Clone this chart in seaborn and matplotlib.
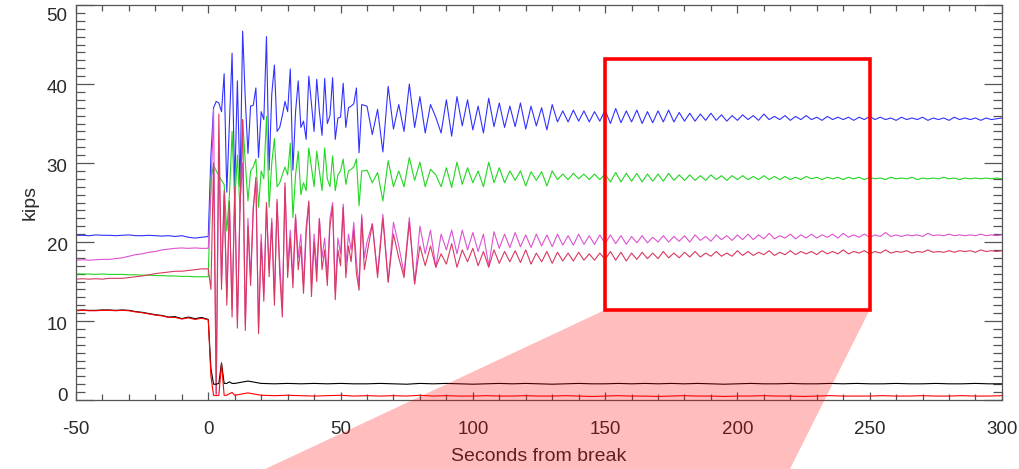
import numpy as np
import pandas as pd
import seaborn as sns
import matplotlib
matplotlib.use("Agg")
import matplotlib.pyplot as plt
from matplotlib.patches import Rectangle, Polygon
from matplotlib.transforms import ScaledTranslation
from matplotlib.ticker import MultipleLocator

# ---------------- data ----------------
t_pre = np.arange(-50, 0.1, 2.5)          # 21 samples before the break
t_early = np.arange(1, 61, 1)             # 60 samples, 1 s
t_late = np.arange(62, 301, 2)            # 120 samples, 2 s
t_tail = np.concatenate([t_pre, np.arange(1, 11, 1), np.arange(15, 301, 5)])

blue_pre = [20.85, 20.85, 20.8, 20.9, 20.85, 20.85, 20.8, 20.85, 20.9, 20.8, 20.8,
            20.85, 20.8, 20.75, 20.8, 20.7, 20.8, 20.6, 20.5, 20.6, 20.7]
blue_early = [31.0, 37.0, 37.8, 37.6, 36.5, 41.3, 26.3, 35.0, 43.9, 27.0,
              40.4, 27.0, 46.7, 38.0, 31.2, 37.2, 37.3, 39.5, 30.7, 36.5,
              35.5, 46.0, 29.1, 38.7, 42.4, 34.0, 34.5, 36.0, 37.8, 36.5,
              41.9, 29.1, 36.5, 40.4, 34.5, 35.3, 33.0, 41.0, 37.5, 34.0,
              40.6, 36.5, 33.5, 40.7, 35.0, 36.0, 40.8, 33.0, 35.7, 35.8,
              40.1, 34.5, 37.0, 37.2, 37.5, 39.5, 31.3, 37.4, 37.3, 37.2]
blue_late = [33.6, 36.8, 31.4, 39.7, 34.3, 37.4, 34.0, 40.0, 34.5, 38.4,
             33.8, 37.4, 35.8, 33.8, 38.0, 33.4, 38.4, 34.7, 38.0, 34.2,
             37.2, 33.8, 38.2, 34.6, 37.6, 34.5, 37.2, 34.6, 37.6, 34.3,
             37.2, 34.7, 37.0, 34.2, 37.4, 35.2, 36.6, 35.2, 36.7, 35.3,
             36.6, 35.2, 36.5, 35.3, 36.7, 35.0, 36.9, 35.1, 36.6, 35.2,
             36.7, 35.0, 36.5, 35.1, 36.6, 35.2, 36.7, 35.2, 36.4, 35.3,
             36.3, 35.3, 36.2, 35.4, 36.3, 35.4, 36.1, 35.3, 36.0, 35.4,
             36.1, 35.5, 36.0, 35.4, 36.2, 35.5, 35.9, 35.5, 36.0, 35.4,
             35.9, 35.5, 36.0, 35.5, 35.8, 35.4, 35.9, 35.5, 35.8, 35.5,
             35.8, 35.4, 35.8, 35.5, 35.9, 35.5, 35.8, 35.5, 35.7, 35.4,
             35.8, 35.5, 35.7, 35.5, 35.8, 35.4, 35.7, 35.5, 35.7, 35.4,
             35.8, 35.5, 35.7, 35.5, 35.7, 35.4, 35.7, 35.5, 35.6, 35.7]

green_pre = [15.95, 15.95, 15.95, 15.9, 15.95, 15.9, 15.9, 15.9, 15.85, 15.85, 15.8,
             15.8, 15.75, 15.75, 15.7, 15.7, 15.65, 15.65, 15.6, 15.6, 15.6]
green_early = [28.0, 29.8, 29.0, 28.4, 27.8, 27.3, 21.4, 26.0, 34.0, 25.0,
               31.0, 24.0, 35.5, 30.0, 25.2, 29.0, 29.5, 30.5, 24.4, 29.0,
               28.0, 35.9, 24.4, 30.0, 33.1, 27.0, 27.5, 28.5, 29.5, 28.5,
               32.5, 23.1, 28.5, 31.5, 26.0, 27.5, 26.5, 31.9, 29.5, 27.0,
               31.5, 29.0, 26.5, 31.9, 28.0, 27.0, 30.9, 26.5, 28.5, 29.0,
               30.5, 27.3, 29.0, 29.2, 29.5, 30.5, 24.6, 29.0, 29.0, 29.1]
green_late = [27.5, 28.8, 25.2, 30.3, 27.0, 29.0, 27.0, 30.7, 27.8, 30.1,
              27.0, 29.2, 28.5, 27.0, 29.4, 26.9, 30.1, 27.3, 29.4, 27.5,
              29.0, 27.0, 30.1, 27.5, 29.4, 27.5, 29.0, 27.8, 29.0, 27.1,
              28.9, 27.8, 28.9, 27.1, 29.0, 27.9, 28.6, 27.9, 28.7, 28.0,
              28.6, 27.9, 28.6, 27.9, 28.6, 27.6, 28.8, 27.6, 28.7, 27.7,
              28.7, 27.6, 28.6, 27.7, 28.6, 27.7, 28.7, 27.8, 28.5, 27.8,
              28.5, 27.8, 28.4, 27.8, 28.5, 27.9, 28.4, 27.8, 28.4, 27.9,
              28.4, 27.9, 28.3, 27.9, 28.4, 27.9, 28.3, 27.9, 28.3, 27.9,
              28.2, 27.9, 28.3, 28.0, 28.2, 27.9, 28.2, 28.0, 28.2, 27.9,
              28.2, 28.0, 28.2, 27.9, 28.2, 28.0, 28.1, 27.9, 28.2, 28.0,
              28.1, 28.0, 28.2, 27.9, 28.1, 28.0, 28.1, 28.0, 28.2, 28.0,
              28.1, 27.9, 28.1, 28.0, 28.1, 28.0, 28.1, 28.0, 28.1, 28.0]

magenta_pre = [17.7, 17.75, 17.7, 17.75, 17.8, 17.8, 17.9, 18.0, 18.2, 18.4, 18.5,
               18.7, 18.8, 19.0, 19.1, 19.2, 19.25, 19.2, 19.25, 19.2, 19.2]
magenta_early = [26.0, 36.8, 0.6, 31.0, 15.0, 26.0, 13.0, 24.5, 11.5, 26.0,
                 10.0, 25.0, 30.0, 9.5, 23.0, 15.5, 24.5, 27.5, 9.0, 21.0,
                 13.5, 24.5, 16.5, 23.0, 13.0, 25.0, 17.5, 11.5, 27.0, 17.0,
                 21.5, 15.5, 23.5, 18.0, 21.0, 14.5, 22.0, 25.0, 14.5, 21.0,
                 16.5, 23.0, 18.0, 20.5, 15.5, 23.0, 25.0, 13.9, 20.5, 18.5,
                 24.8, 17.0, 21.0, 19.0, 22.5, 17.5, 14.5, 23.5, 18.0, 20.0]
magenta_late = [22.3, 16.0, 23.5, 15.0, 22.5, 19.5, 16.0, 23.1, 14.7, 22.0,
                18.5, 21.5, 16.8, 21.0, 19.0, 21.5, 18.5, 21.5, 19.0, 21.2,
                18.8, 21.0, 17.0, 21.3, 19.2, 21.0, 19.3, 21.2, 19.4, 20.9,
                19.3, 21.0, 19.5, 20.9, 19.4, 21.0, 19.6, 20.8, 19.6, 21.0,
                19.7, 20.8, 19.7, 20.9, 19.8, 20.9, 19.8, 20.8, 19.7, 20.7,
                19.9, 20.8, 19.9, 20.6, 20.0, 20.8, 20.0, 20.7, 20.1, 20.8,
                20.0, 20.9, 20.2, 20.7, 20.1, 20.9, 20.3, 20.8, 20.2, 20.9,
                20.3, 21.0, 20.3, 20.9, 20.4, 21.1, 20.4, 20.8, 20.5, 21.0,
                20.4, 20.9, 20.5, 21.0, 20.5, 20.9, 20.6, 21.0, 20.5, 21.1,
                20.6, 20.9, 20.6, 21.0, 20.6, 20.9, 20.7, 21.2, 20.7, 20.9,
                20.7, 20.9, 20.8, 20.9, 20.7, 21.1, 20.8, 20.9, 20.8, 21.0,
                20.8, 20.9, 20.8, 20.9, 20.8, 21.0, 20.8, 20.9, 20.8, 20.9]

crimson_pre = [15.3, 15.35, 15.3, 15.35, 15.3, 15.4, 15.4, 15.4, 15.5, 15.6, 15.7,
               15.85, 16.0, 16.1, 16.2, 16.3, 16.3, 16.4, 16.5, 16.6, 16.6]
crimson_early = [14.0, 30.0, 0.8, 36.2, 14.0, 26.5, 12.0, 25.2, 10.5, 27.0,
                 9.1, 24.0, 35.5, 8.8, 22.0, 14.5, 24.0, 28.2, 8.4, 20.0,
                 12.5, 25.0, 15.6, 22.5, 12.0, 25.4, 16.0, 10.5, 27.5, 15.5,
                 20.5, 14.2, 23.1, 16.5, 19.5, 13.5, 21.0, 25.2, 13.1, 20.0,
                 15.0, 22.9, 16.5, 19.0, 14.5, 22.0, 24.5, 12.7, 19.0, 17.0,
                 24.4, 15.5, 19.5, 17.5, 21.5, 16.0, 13.9, 23.1, 16.5, 18.5]
crimson_late = [22.3, 15.5, 23.0, 14.9, 21.0, 18.0, 15.5, 22.5, 14.7, 19.5,
                17.0, 19.5, 16.8, 18.5, 17.2, 19.8, 16.8, 19.0, 17.5, 19.2,
                17.0, 18.8, 16.8, 19.0, 17.3, 18.8, 17.5, 18.9, 17.4, 19.0,
                17.2, 18.6, 17.5, 18.8, 17.3, 18.7, 17.6, 18.6, 17.6, 18.7,
                17.7, 18.5, 17.7, 18.6, 17.8, 18.8, 17.7, 18.7, 17.6, 18.6,
                17.8, 18.7, 17.9, 18.6, 17.9, 18.8, 18.0, 18.6, 18.0, 18.7,
                18.1, 18.8, 18.1, 18.6, 18.2, 18.8, 18.2, 18.6, 18.2, 18.9,
                18.3, 18.8, 18.3, 18.7, 18.4, 18.9, 18.3, 18.7, 18.4, 18.9,
                18.4, 18.8, 18.5, 18.8, 18.4, 18.9, 18.5, 18.8, 18.5, 19.0,
                18.5, 18.8, 18.6, 18.9, 18.5, 18.8, 18.6, 19.0, 18.6, 18.8,
                18.7, 18.9, 18.6, 18.8, 18.7, 19.0, 18.7, 18.8, 18.7, 18.9,
                18.7, 18.9, 18.8, 18.9, 18.7, 19.0, 18.8, 18.9, 18.8, 18.9]

black_vals = [11.35, 11.4, 11.35, 11.35, 11.4, 11.4, 11.35, 11.4, 11.35, 11.2, 11.1,
              10.95, 10.8, 10.7, 10.5, 10.55, 10.3, 10.5, 10.3, 10.45, 10.2,
              4.0, 2.0, 2.0, 2.1, 4.7, 2.1, 2.1, 2.3, 2.1, 2.1,
              2.4, 2.1, 2.05, 2.1, 2.05, 2.1, 2.05, 2.1, 2.05, 2.05,
              2.1, 2.05, 2.0, 2.1, 2.05, 2.1, 2.05, 2.0, 2.05, 2.1,
              2.05, 2.1, 2.05, 2.0, 2.05, 2.1, 2.05, 2.05, 2.1, 2.05,
              2.1, 2.05, 2.1, 2.05, 2.1, 2.05, 2.0, 2.05, 2.1, 2.05,
              2.05, 2.1, 2.05, 2.05, 2.1, 2.05, 2.1, 2.05, 2.05, 2.1,
              2.05, 2.05, 2.1, 2.05, 2.05, 2.1, 2.05, 2.05]
red_vals = [11.3, 11.35, 11.3, 11.3, 11.35, 11.35, 11.3, 11.35, 11.3, 11.15, 11.05,
            10.9, 10.75, 10.65, 10.45, 10.45, 10.25, 10.4, 10.2, 10.35, 10.15,
            3.0, 0.6, 0.55, 0.6, 4.6, 0.6, 0.6, 0.8, 0.95, 0.6,
            0.9, 0.6, 0.55, 0.6, 0.55, 0.5, 0.55, 0.6, 0.5, 0.55,
            0.5, 0.55, 0.5, 0.6, 0.5, 0.55, 0.5, 0.5, 0.55, 0.5,
            0.5, 0.55, 0.5, 0.5, 0.55, 0.5, 0.45, 0.5, 0.55, 0.5,
            0.5, 0.45, 0.5, 0.55, 0.5, 0.5, 0.45, 0.5, 0.5, 0.55,
            0.5, 0.5, 0.45, 0.5, 0.55, 0.5, 0.5, 0.5, 0.55, 0.5,
            0.5, 0.55, 0.5, 0.5, 0.55, 0.5, 0.5, 0.55]

zoom_x = [150, 250]          # zoom box, seconds
zoom_y = [11.4, 43.2]        # zoom box, kips
x_ticks = [-50, 0, 50, 100, 150, 200, 250, 300]
y_ticks = [0, 10, 20, 30, 40, 50]

# ---------------- assemble ----------------
t_main = np.concatenate([t_pre, t_early, t_late])
series = [
    ("blue", t_main, blue_pre + blue_early + blue_late, "#3232ff"),
    ("green", t_main, green_pre + green_early + green_late, "#22d622"),
    ("magenta", t_main, magenta_pre + magenta_early + magenta_late, "#de52d2"),
    ("crimson", t_main, crimson_pre + crimson_early + crimson_late, "#d9385f"),
    ("black", t_tail, black_vals, "#000000"),
    ("red", t_tail, red_vals, "#ff0000"),
]
frames = []
for name, tt, vv, _ in series:
    frames.append(pd.DataFrame({"t": tt, "v": vv, "series": name}))
df = pd.concat(frames, ignore_index=True)

sns.set_theme(style="white")
plt.rcParams["font.family"] = ["Liberation Sans", "DejaVu Sans"]
plt.rcParams["axes.unicode_minus"] = False

fig = plt.figure(figsize=(10.2, 4.69), dpi=100)
ax = fig.add_axes([0.0745, 0.1471, 0.9078, 0.8422])

for name, _, _, col in series:
    sub = df[df["series"] == name]
    sns.lineplot(data=sub, x="t", y="v", color=col, linewidth=0.8,
                 estimator=None, sort=False, ax=ax)

ax.set_xlim(x_ticks[0], x_ticks[-1])
ax.set_ylim(y_ticks[0], y_ticks[-1])

ax.add_patch(Rectangle((zoom_x[0], zoom_y[0]), zoom_x[1] - zoom_x[0],
                       zoom_y[1] - zoom_y[0], fill=False, edgecolor="#ff0000",
                       linewidth=2.6, zorder=6))

# axes style
for sp in ax.spines.values():
    sp.set_color("#555555")
    sp.set_linewidth(0.9)
ax.xaxis.set_minor_locator(MultipleLocator(10))
ax.yaxis.set_minor_locator(MultipleLocator(1))
ax.set_xticks(x_ticks)
ax.set_yticks(y_ticks)
ax.tick_params(which="both", direction="in", top=True, right=True, left=True,
               bottom=True, color="#555555", width=0.9, labelsize=13.5,
               labelcolor="#2a2a2a")
ax.tick_params(axis="y", which="major", length=13, pad=6)
ax.tick_params(axis="y", which="minor", length=6.5)
ax.tick_params(axis="x", which="major", length=6, pad=15)
ax.tick_params(axis="x", which="minor", length=4)

ax.set_xlabel("Seconds from break", fontsize=14, color="#2a2a2a", labelpad=7)
ax.set_ylabel("kips", fontsize=14, color="#2a2a2a", labelpad=6)

# IDL-like y tick label placement (nudged inside the frame)
shifts = {0: 4.0, 50: -7.0}
for tk, val in zip(ax.yaxis.get_major_ticks(), y_ticks):
    dy = shifts.get(val, -2.0)
    lab = tk.label1
    lab.set_transform(lab.get_transform() + ScaledTranslation(0, dy / 72, fig.dpi_scale_trans))

# translucent zoom wedge from the box down to the bottom of the figure
inv = fig.transFigure.inverted()
p_left = inv.transform(ax.transData.transform((zoom_x[0], zoom_y[0])))
p_right = inv.transform(ax.transData.transform((zoom_x[1], zoom_y[0])))
wedge = Polygon([p_left, p_right, (0.7745, 0.0), (0.26, 0.0)], closed=True,
                transform=fig.transFigure, facecolor="#ff0000", alpha=0.26,
                edgecolor="none", zorder=10)
fig.add_artist(wedge)

fig.savefig("out.png", dpi=100)
